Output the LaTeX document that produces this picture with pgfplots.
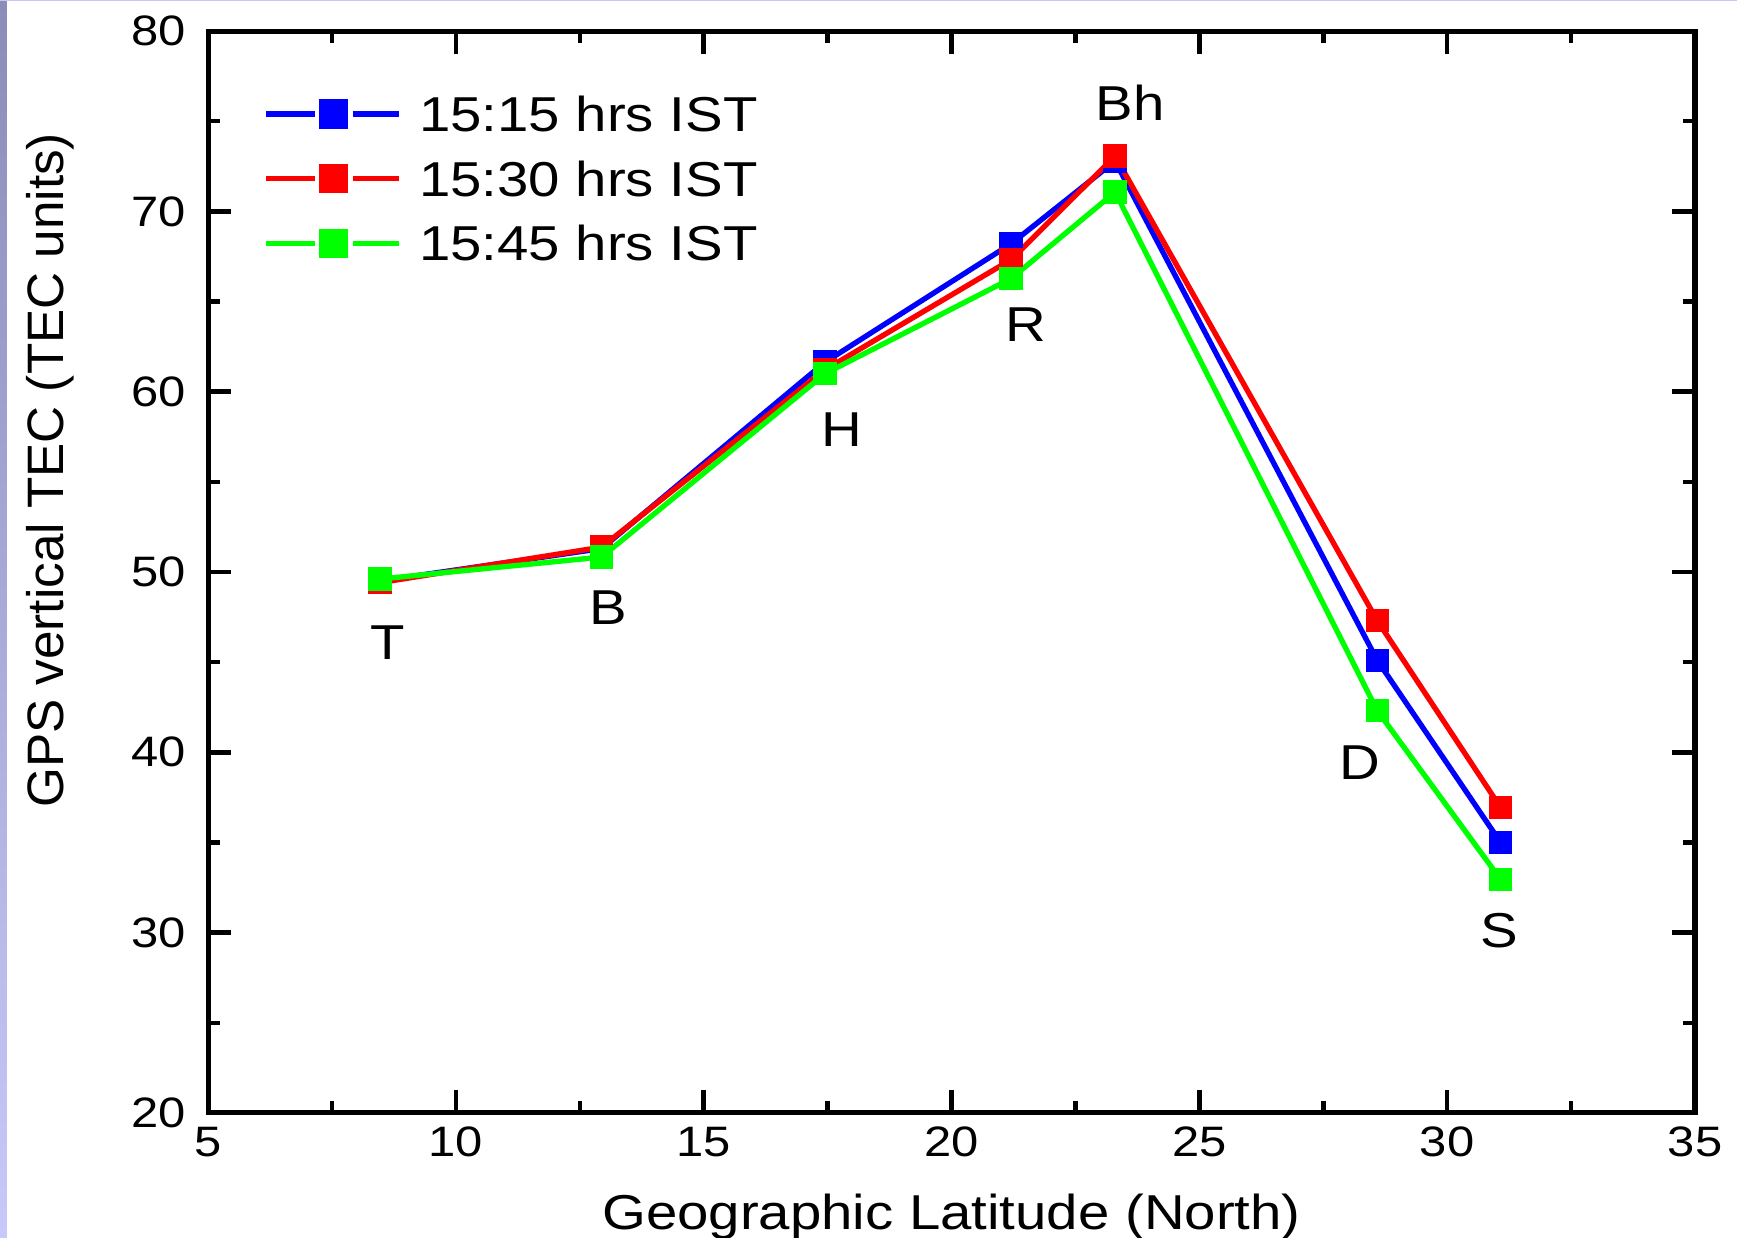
\documentclass[border=0pt]{standalone}
\usepackage{fontspec}
\setmainfont{Liberation Sans}[FakeStretch=1.15]
\newfontfamily\ylabfont{Liberation Sans}
\usepackage{pgfplots}
\pgfplotsset{compat=1.18}
\usetikzlibrary{shadings}
\definecolor{cblue}{RGB}{0,0,255}
\definecolor{cred}{RGB}{255,0,0}
\definecolor{cgreen}{RGB}{0,255,0}
\definecolor{stripA}{RGB}{140,140,185}
\definecolor{stripB}{RGB}{200,200,250}
\begin{document}
\begin{tikzpicture}
\begin{axis}[
  name=ax,
  at={(0,0)}, anchor=south west,
  scale only axis,
  width=531.1pt, height=386.4pt,
  xmin=5, xmax=35, ymin=20, ymax=80,
  xtick={5,10,...,35}, ytick={20,30,...,80},
  minor x tick num=1, minor y tick num=1,
  tick align=inside,
  major tick length=8.3pt, minor tick length=4.4pt,
  axis line style={line width=1.8pt},
  tick style={line width=1.6pt, black},
  tick label style={font=\fontsize{15.2}{18}\selectfont},
  /pgf/number format/assume math mode=true,
  yticklabel style={xshift=-4.5pt},
  xticklabel style={yshift=-1.5pt},
  xlabel={Geographic Latitude (North)},
  ylabel={GPS vertical TEC (TEC units)},
  xlabel style={font=\fontsize{17.5}{21}\selectfont, at={(axis description cs:0.5,0)}, anchor=base, yshift=-41.8pt},
  ylabel style={font=\ylabfont\fontsize{18.3}{21}\selectfont, at={(axis description cs:-0.0975,0.594)}, anchor=base},
  legend cell align=left,
  legend style={draw=none, fill=none, inner sep=0pt,
    at={(axis description cs:0.0369,0.94)}, anchor=north west,
    font=\fontsize{17.5}{21}\selectfont,
    nodes={inner sep=0pt, text height=12.5pt, text depth=0pt},
    row sep=10.6pt, column sep=6.25pt},
  legend image code/.code={
    \draw[mark=none] (0pt,0pt) -- (17.5pt,0pt) (31pt,0pt) -- (47.5pt,0pt);
    \draw[mark repeat=2, mark phase=2, mark size=5.2pt, draw opacity=0] plot coordinates {(0pt,0pt) (24pt,0pt) (47.5pt,0pt)};
  },
]
\addplot[color=cblue, line width=1.9pt, mark=square*, mark size=4pt, mark options={solid, line width=0pt, fill=cblue}] coordinates {
  (8.47,49.5) (12.94,51.3) (17.45,61.64) (21.2,68.2) (23.3,72.79) (28.59,45.1) (31.08,34.99)};
\addlegendentry{15:15 hrs IST}
\addplot[color=cred, line width=1.9pt, mark=square*, mark size=4pt, mark options={solid, line width=0pt, fill=cred}] coordinates {
  (8.47,49.41) (12.94,51.38) (17.45,61.22) (21.2,67.32) (23.3,73.07) (28.59,47.3) (31.08,36.93)};
\addlegendentry{15:30 hrs IST}
\addplot[color=cgreen, line width=1.9pt, mark=square*, mark size=4pt, mark options={solid, line width=0pt, fill=cgreen}] coordinates {
  (8.47,49.61) (12.94,50.83) (17.45,61.0) (21.2,66.27) (23.3,71.07) (28.59,42.31) (31.08,32.94)};
\addlegendentry{15:45 hrs IST}
\begin{scope}[every node/.style={font=\fontsize{17.5}{21}\selectfont, inner sep=0pt, anchor=center}]
\node at (axis cs:8.63,46.1) {T};
\node at (axis cs:13.07,48.0) {B};
\node at (axis cs:17.79,57.9) {H};
\node at (axis cs:21.5,63.7) {R};
\node at (axis cs:23.6,76.0) {Bh};
\node at (axis cs:28.24,39.4) {D};
\node at (axis cs:31.06,30.1) {S};
\end{scope}
\end{axis}
\fill[top color=stripA, bottom color=stripB] (-74.3pt,-44.6pt) rectangle (-71.8pt,397.5pt);
\fill[stripB] (-74.3pt,397.1pt) rectangle (546.1pt,397.5pt);
\pgfresetboundingbox
\useasboundingbox (-74.3pt,-44.6pt) rectangle (546.1pt,397.5pt);
\end{tikzpicture}
\end{document}
